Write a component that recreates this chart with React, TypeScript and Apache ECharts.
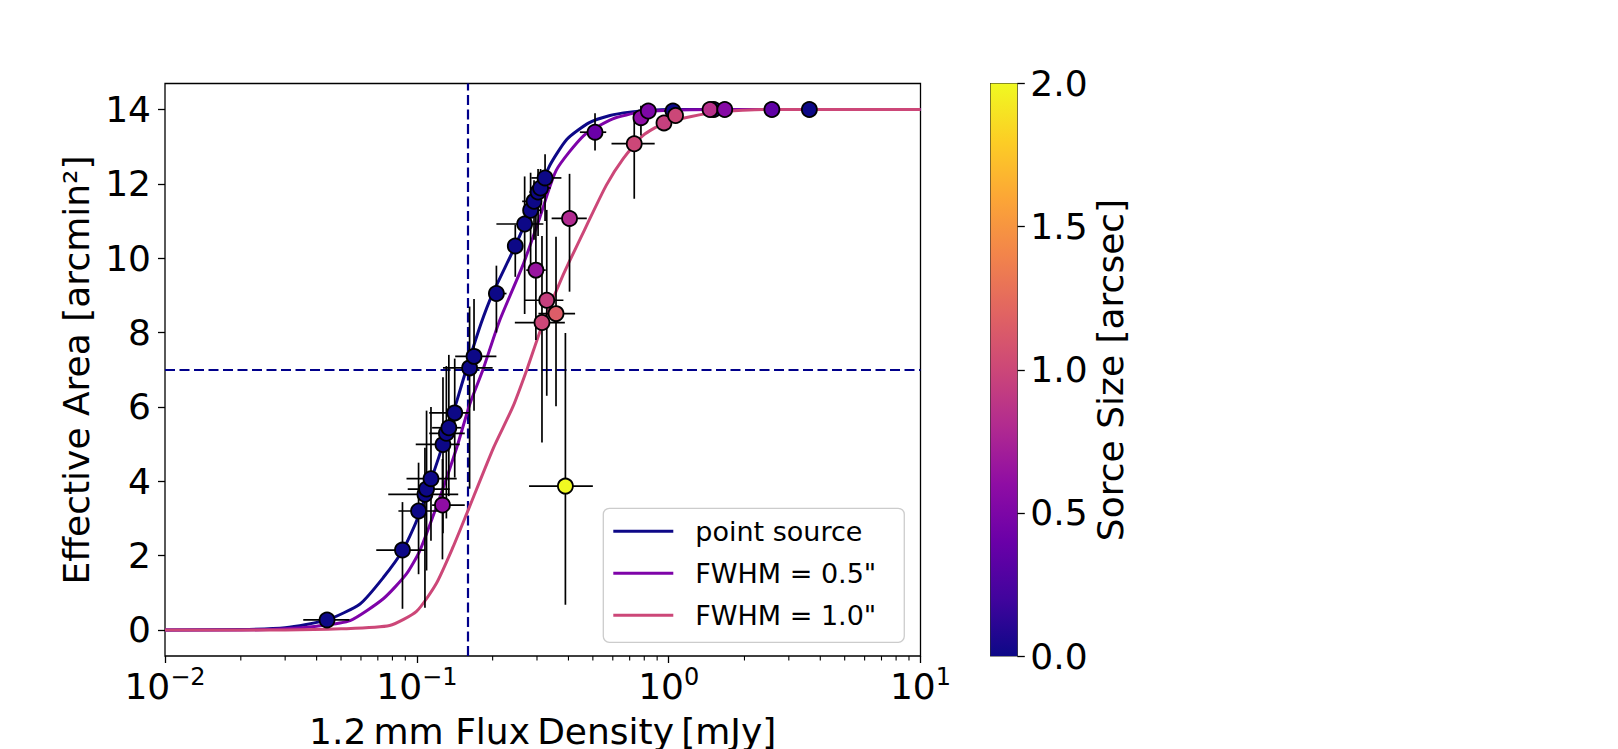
import React, { useEffect, useRef } from "react";
import * as echarts from "echarts";

const FONT = "'DejaVu Sans', 'Noto Sans', sans-serif";

// ---- model curves ----
const curveNames = ["point source", 'FWHM = 0.5"', 'FWHM = 1.0"'];
const curveColors = ["#0d0887", "#7e03a8", "#cc4778"];

const pointSourceX = [0.01, 0.02, 0.03, 0.044, 0.0595, 0.0736, 0.0877, 0.0997, 0.122, 0.144, 0.157, 0.18, 0.2, 0.246, 0.3, 0.3375, 0.3945, 0.482, 0.585, 0.7, 0.85, 1.0, 10];
const pointSourceY = [0.0, 0.01, 0.06, 0.27, 0.7, 1.41, 2.13, 2.93, 4.63, 6.15, 7.0, 8.25, 9.05, 10.33, 11.68, 12.5, 13.2, 13.64, 13.84, 13.93, 13.98, 14.0, 14.0];

const fwhm05X = [0.01, 0.02, 0.03, 0.04, 0.0543, 0.0736, 0.0908, 0.1027, 0.1233, 0.144, 0.162, 0.183, 0.2125, 0.264, 0.307, 0.358, 0.46, 0.6, 0.77, 1.0, 1.5, 10];
const fwhm05Y = [0.0, 0.0, 0.03, 0.1, 0.25, 0.84, 1.5, 2.13, 3.56, 4.9, 6.06, 7.0, 8.3, 9.82, 11.07, 12.37, 13.3, 13.75, 13.93, 13.98, 14.0, 14.0];

const fwhm10X = [0.01, 0.03, 0.05, 0.078, 0.0997, 0.1195, 0.139, 0.1574, 0.2015, 0.2405, 0.275, 0.313, 0.381, 0.473, 0.565, 0.66, 0.79, 0.98, 1.55, 2.5, 10];
const fwhm10Y = [0.0, 0.0, 0.03, 0.12, 0.5, 1.25, 2.22, 3.11, 4.9, 6.0, 7.05, 8.15, 9.55, 10.89, 11.96, 12.68, 13.3, 13.66, 13.93, 14.0, 14.0];

// ---- measured sources ----
const srcFlux = [0.044, 0.0877, 0.1016, 0.1077, 0.1093, 0.1138, 0.127, 0.131, 0.134, 0.1414, 0.162, 0.1687, 0.207, 0.246, 0.268, 0.283, 0.292, 0.303, 0.31, 0.323, 1.04, 1.51, 3.62, 0.51, 0.776, 0.83, 1.46, 1.67, 2.57, 0.73, 0.958, 1.065, 0.404, 0.297, 0.328, 0.357, 0.314, 0.389, 0.1264];
const srcArea = [0.27, 2.15, 3.2, 3.65, 3.79, 4.07, 4.99, 5.29, 5.44, 5.84, 7.05, 7.36, 9.05, 10.33, 10.92, 11.29, 11.53, 11.78, 11.89, 12.16, 13.96, 14.0, 14.0, 13.39, 13.78, 13.96, 14.0, 14.0, 14.0, 13.08, 13.64, 13.84, 11.07, 9.68, 8.87, 8.51, 8.27, 3.87, 3.36];
const srcSize = [0, 0, 0, 0, 0, 0, 0, 0, 0, 0, 0, 0, 0, 0, 0, 0, 0, 0, 0, 0, 0, 0, 0, 0.4, 0.6, 0.5, 0.85, 0.55, 0.35, 1.0, 0.95, 1.0, 0.8, 0.65, 0.95, 1.15, 1.0, 2.0, 0.6];
const srcFluxLo = [0.0354, 0.069, 0.0845, 0.077, 0.092, 0.091, 0.099, 0.112, 0.115, 0.112, 0.127, 0.142, 0.192, 0.23, 0.207, 0.265, 0.262, 0.28, 0.29, 0.285, 0.96, 1.49, 3.6, 0.444, 0.745, 0.81, 1.44, 1.65, 2.55, 0.593, 0.92, 1.0, 0.343, 0.272, 0.268, 0.304, 0.245, 0.279, 0.115];
const srcFluxHi = [0.054, 0.108, 0.123, 0.146, 0.135, 0.144, 0.148, 0.155, 0.15, 0.162, 0.2, 0.207, 0.227, 0.262, 0.318, 0.31, 0.31, 0.33, 0.34, 0.375, 1.12, 1.53, 3.64, 0.565, 0.81, 0.85, 1.48, 1.69, 2.59, 0.88, 1.0, 1.13, 0.473, 0.325, 0.382, 0.425, 0.387, 0.5, 0.155];
const srcAreaLo = [0.12, 0.57, 1.5, 0.6, 1.6, 2.4, 2.6, 3.0, 3.6, 4.1, 3.8, 5.9, 8.0, 9.5, 8.5, 9.8, 10.5, 10.6, 11.2, 11.0, 13.85, 14.0, 14.0, 12.9, 13.3, 13.9, 14.0, 14.0, 14.0, 11.6, 13.5, 13.75, 9.1, 7.8, 6.3, 6.02, 5.04, 0.68, 1.9];
const srcAreaHi = [0.42, 3.44, 4.5, 4.9, 5.9, 6.0, 6.8, 7.1, 7.4, 7.3, 8.7, 8.9, 9.8, 10.9, 12.2, 12.3, 12.1, 12.4, 12.4, 12.8, 14.05, 14.0, 14.0, 13.9, 14.1, 14.0, 14.0, 14.0, 14.0, 13.93, 13.8, 13.95, 12.27, 11.6, 11.3, 10.58, 10.6, 7.99, 4.6];

// ---- reference lines ----
const fluxLimit = 0.16;
const halfArea = 7;

// ---- axes ----
const yMin = -0.7;
const yMax = 14.7;
const yTickValues = [0, 2, 4, 6, 8, 10, 12, 14];
const xMin = 0.01;
const xMax = 10;
const xMinorTicks = [0.02, 0.03, 0.04, 0.05, 0.06, 0.07, 0.08, 0.09, 0.2, 0.3, 0.4, 0.5, 0.6, 0.7, 0.8, 0.9, 2, 3, 4, 5, 6, 7, 8, 9];
const sizeMin = 0;
const sizeMax = 2;

const plasma = ["#0d0887", "#41049d", "#6a00a8", "#8f0da4", "#b12a90", "#cc4778", "#e16462", "#f2844b", "#fca636", "#fcce25", "#f0f921"];

export default function App() {
  const ref = useRef<HTMLDivElement>(null);

  useEffect(() => {
    const chart = echarts.init(ref.current!, null, { renderer: "svg" });

    const curves = [
      [pointSourceX, pointSourceY],
      [fwhm05X, fwhm05Y],
      [fwhm10X, fwhm10Y],
    ];

    const lineSeries: any[] = curves.map(([xs, ys], i) => ({
      type: "line",
      name: curveNames[i],
      xAxisIndex: 0,
      yAxisIndex: 0,
      data: xs.map((x, k) => [x, ys[k]]),
      showSymbol: false,
      symbol: "none",
      smooth: 0.2,
      color: curveColors[i],
      lineStyle: { color: curveColors[i], width: 3, join: "round" },
      z: 2,
      silent: true,
    }));

    lineSeries[0].markLine = {
      silent: true,
      symbol: ["none", "none"],
      label: { show: false },
      lineStyle: { color: "#00008b", type: [10, 4.5], width: 2.2 },
      data: [{ xAxis: fluxLimit }, { yAxis: halfArea }],
      z: 1,
    };

    const errData = srcFlux.map((x, i) => [x, srcArea[i], srcFluxLo[i], srcFluxHi[i], srcAreaLo[i], srcAreaHi[i]]);
    const scatterData = srcFlux.map((x, i) => [x, srcArea[i], srcSize[i]]);

    const option: any = {
      animation: false,
      backgroundColor: "#ffffff",
      grid: [
        { left: 165, top: 83.5, width: 755.5, height: 572.5, show: true, borderColor: "#000", borderWidth: 1.3, backgroundColor: "transparent" },
        { left: 990.6, top: 83.5, width: 26.7, height: 572.5, show: true, borderColor: "#222", borderWidth: 1.1, backgroundColor: "transparent" },
      ],
      xAxis: [
        {
          type: "log",
          logBase: 10,
          gridIndex: 0,
          position: "bottom",
          min: xMin,
          max: xMax,
          axisLine: { show: false, onZero: false },
          splitLine: { show: false },
          axisTick: { show: true, length: 7, lineStyle: { color: "#000", width: 1.3 } },
          axisLabel: {
            margin: 9,
            showMinLabel: true,
            showMaxLabel: true,
            formatter: (v: number) => {
              const e = Math.round(Math.log10(v));
              const s = e < 0 ? "\u2212" + -e : String(e);
              return `{b|10}{s|${s}}`;
            },
            rich: {
              b: { fontSize: 36, lineHeight: 42, fontFamily: FONT, color: "#000" },
              s: { fontSize: 24, lineHeight: 24, verticalAlign: "top", fontFamily: FONT, color: "#000" },
            },
          },
        },
        { type: "value", gridIndex: 1, min: 0, max: 1, show: false, axisLine: { onZero: false } },
      ],
      yAxis: [
        {
          type: "value",
          gridIndex: 0,
          position: "left",
          min: yMin,
          max: yMax,
          axisLine: { show: false, onZero: false },
          splitLine: { show: false },
          axisTick: { show: true, length: 7, lineStyle: { color: "#000", width: 1.3 }, customValues: yTickValues },
          axisLabel: { customValues: yTickValues, margin: 14, fontSize: 36, fontFamily: FONT, color: "#000" },
        },
        {
          type: "value",
          gridIndex: 1,
          position: "right",
          min: sizeMin,
          max: sizeMax,
          interval: 0.5,
          axisLine: { show: false, onZero: false },
          splitLine: { show: false },
          axisTick: { show: true, length: 7.5, lineStyle: { color: "#000", width: 1.3 } },
          axisLabel: { margin: 13, fontSize: 36, fontFamily: FONT, color: "#000", formatter: (v: number) => v.toFixed(1) },
        },
      ],
      visualMap: {
        type: "continuous",
        show: false,
        min: sizeMin,
        max: sizeMax,
        dimension: 2,
        seriesIndex: 5,
        inRange: { color: plasma },
      },
      legend: {
        data: curveNames,
        orient: "vertical",
        left: 603.3,
        top: 508.3,
        icon: "rect",
        itemWidth: 60,
        itemHeight: 3,
        itemGap: 12,
        padding: [8, 28, 12, 10],
        backgroundColor: "rgba(255,255,255,0.8)",
        borderColor: "#cccccc",
        borderWidth: 1.3,
        borderRadius: 6,
        textStyle: { fontSize: 27, lineHeight: 30, fontFamily: FONT, color: "#000", padding: [0, 0, 0, 17] },
        selectedMode: false,
      },
      graphic: [
        {
          type: "text",
          x: 76.5,
          y: 370,
          rotation: Math.PI / 2,
          style: { text: "Effective Area [arcmin\u00b2]", fontSize: 36, fontFamily: FONT, fill: "#000", align: "center", verticalAlign: "middle" },
        },
        {
          type: "text",
          x: 1110,
          y: 370,
          rotation: Math.PI / 2,
          style: { text: "Sorce Size [arcsec]", fontSize: 36, fontFamily: FONT, fill: "#000", align: "center", verticalAlign: "middle" },
        },
        {
          type: "text",
          x: 542.7,
          y: 731,
          style: { text: "1.2\u2009mm Flux\u2009Density\u2009[mJy]", fontSize: 36, fontFamily: FONT, fill: "#000", align: "center", verticalAlign: "middle" },
        },
      ],
      series: [
        ...lineSeries,
        {
          type: "custom",
          name: "minorTicks",
          xAxisIndex: 0,
          yAxisIndex: 0,
          clip: false,
          silent: true,
          data: xMinorTicks.map((v) => [v, 7]),
          encode: { x: 0, y: 1 },
          renderItem: (params: any, api: any) => {
            const p = api.coord([api.value(0), 7]);
            const cs = params.coordSys;
            const yb = cs.y + cs.height;
            return {
              type: "line",
              shape: { x1: p[0], y1: yb, x2: p[0], y2: yb + 4.5 },
              style: { stroke: "#000", lineWidth: 1.1 },
            };
          },
          z: 3,
        },
        {
          type: "custom",
          name: "errors",
          xAxisIndex: 0,
          yAxisIndex: 0,
          silent: true,
          data: errData,
          encode: { x: [0, 2, 3], y: [1, 4, 5] },
          renderItem: (params: any, api: any) => {
            const x = api.value(0);
            const y = api.value(1);
            const h1 = api.coord([api.value(2), y]);
            const h2 = api.coord([api.value(3), y]);
            const v1 = api.coord([x, api.value(4)]);
            const v2 = api.coord([x, api.value(5)]);
            const st = { stroke: "#000", lineWidth: 1.7 };
            return {
              type: "group",
              children: [
                { type: "line", shape: { x1: h1[0], y1: h1[1], x2: h2[0], y2: h2[1] }, style: st },
                { type: "line", shape: { x1: v1[0], y1: v1[1], x2: v2[0], y2: v2[1] }, style: st },
              ],
            };
          },
          z: 4,
        },
        {
          type: "scatter",
          name: "sources",
          xAxisIndex: 0,
          yAxisIndex: 0,
          data: scatterData,
          symbolSize: 15,
          itemStyle: { borderColor: "#000", borderWidth: 1.8, opacity: 1 },
          z: 5,
          silent: true,
        },
        {
          type: "custom",
          name: "colorbar",
          xAxisIndex: 1,
          yAxisIndex: 1,
          silent: true,
          data: [[0, sizeMin, 1, sizeMax]],
          encode: { x: [0, 2], y: [1, 3] },
          renderItem: (params: any, api: any) => {
            const a = api.coord([api.value(0), api.value(1)]);
            const b = api.coord([api.value(2), api.value(3)]);
            return {
              type: "rect",
              shape: { x: a[0], y: b[1], width: b[0] - a[0], height: a[1] - b[1] },
              style: {
                fill: new echarts.graphic.LinearGradient(
                  0, 1, 0, 0,
                  plasma.map((c, i) => ({ offset: i / (plasma.length - 1), color: c }))
                ),
              },
            };
          },
          z: 1,
        },
      ],
    };

    chart.setOption(option);
    return () => chart.dispose();
  }, []);

  return (
    <div
      ref={ref}
      style={{ position: "fixed", left: 0, top: 0, width: 1618, height: 749, background: "#fff" }}
    />
  );
}
